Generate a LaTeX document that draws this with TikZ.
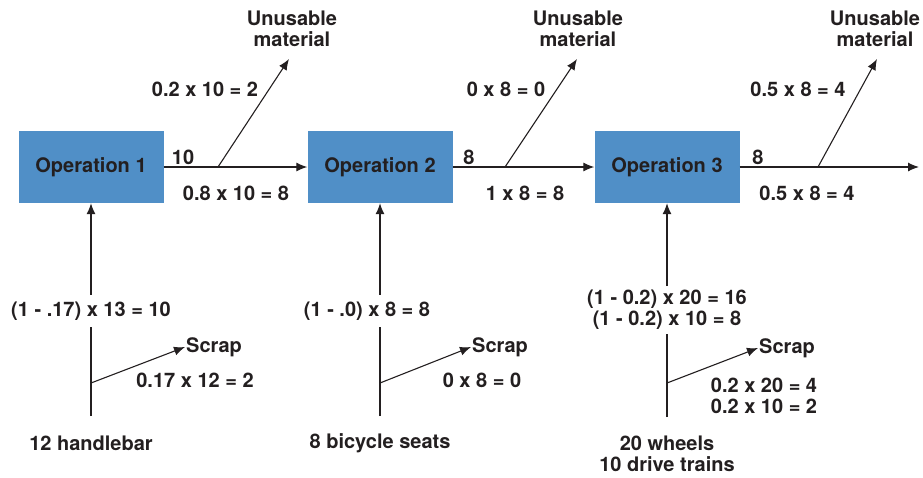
\documentclass[tikz,border=0pt]{standalone}
\usepackage{fontspec}
\setmainfont{TeX Gyre Heros}
\usepackage{tikz}
\usetikzlibrary{arrows.meta}
\definecolor{opblue}{RGB}{80,143,199}
\definecolor{ink}{RGB}{35,31,32}

\begin{document}
\begin{tikzpicture}[x=1pt,y=-1pt,font=\fontsize{20}{23}\selectfont\bfseries,text=ink]
	\tikzstyle{opbox}=[rectangle,fill=opblue,minimum width=145pt,minimum height=72pt,inner sep=0pt]
	\tikzstyle{arr}=[draw=ink,line width=1.1pt,-{Latex[length=11pt,width=9pt]}]
	\tikzstyle{ln}=[draw=ink,line width=1.1pt]
	\tikzstyle{lbl}=[inner sep=1pt,align=center]
	
	\useasboundingbox (0,0) rectangle (923,477);
	
	% operations
	\node[opbox] (op1) at (91,167) {Operation 1};
	\node[opbox] (op2) at (380,167) {Operation 2};
	\node[opbox] (op3) at (667,167) {Operation 3};
	\coordinate (out) at (919,167);
	
	% unusable material
	\node[lbl] (u1) at (292,29) {Unusable\\[-2pt]material};
	\node[lbl] (u2) at (578,29) {Unusable\\[-2pt]material};
	\node[lbl] (u3) at (875,29) {Unusable\\[-2pt]material};
	\coordinate (b1) at (218,167); \coordinate (t1) at (289,59);
	\coordinate (b2) at (505,167); \coordinate (t2) at (577,59);
	\coordinate (b3) at (818,167); \coordinate (t3) at (877,59);
	
	\draw[arr] (op1.east) -- (op2.west);
	\draw[arr] (op2.east) -- (op3.west);
	\draw[arr] (op3.east) -- (out);
	\draw[arr] (b1) -- (t1);
	\draw[arr] (b2) -- (t2);
	\draw[arr] (b3) -- (t3);
	
	\node[lbl] at (183,157) {10};
	\node[lbl] at (469,157) {8};
	\node[lbl] at (758,157) {8};
	\node[lbl] at (205,89) {0.2 x 10 = 2};
	\node[lbl] at (236,193) {0.8 x 10 = 8};
	\node[lbl] at (506,89) {0 x 8 = 0};
	\node[lbl] at (525,193) {1 x 8 = 8};
	\node[lbl] at (798,89) {0.5 x 8 = 4};
	\node[lbl] at (807,193) {0.5 x 8 = 4};
	
	% inputs
	\node[lbl] (in1) at (91,443) {12 handlebar};
	\node[lbl] (in2) at (380,443) {8 bicycle seats};
	\node[lbl] (in3) at (667,454) {20 wheels\\[-2pt]10 drive trains};
	\coordinate (f1) at (91,416);
	\coordinate (f2) at (380,416);
	\coordinate (f3) at (667,417);
	
	\node[lbl,inner sep=7pt] (y1) at (91,311) {(1 - .17) x 13 = 10};
	\node[lbl,inner sep=7pt] (y2) at (367,311) {(1 - .0) x 8 = 8};
	\node[lbl,inner sep=4pt] (y3) at (667,310) {(1 - 0.2) x 20 = 16\\[-2pt](1 - 0.2) x 10 = 8};
	
	\draw[ln] (f1) -- (f1 |- y1.south);
	\draw[arr] (f1 |- y1.north) -- (op1.south);
	\draw[ln] (f2) -- (f2 |- y2.south);
	\draw[arr] (f2 |- y2.north) -- (op2.south);
	\draw[ln] (f3) -- (f3 |- y3.south);
	\draw[arr] (f3 |- y3.north) -- (op3.south);
	
	% scrap
	\node[lbl,anchor=west] (s1) at (185,347) {Scrap};
	\node[lbl,anchor=west] (s2) at (471,347) {Scrap};
	\node[lbl,anchor=west] (s3) at (758,348) {Scrap};
	\coordinate (g1) at (91,383);
	\coordinate (g2) at (380,383);
	\coordinate (g3) at (667,383);
	\draw[arr] (g1) -- (s1.west);
	\draw[arr] (g2) -- (s2.west);
	\draw[arr] (g3) -- (s3.west);
	\node[lbl] at (195,380) {0.17 x 12 = 2};
	\node[lbl] at (482,380) {0 x 8 = 0};
	\node[lbl] at (764,396) {0.2 x 20 = 4\\[-2pt]0.2 x 10 = 2};
\end{tikzpicture}
\end{document}
